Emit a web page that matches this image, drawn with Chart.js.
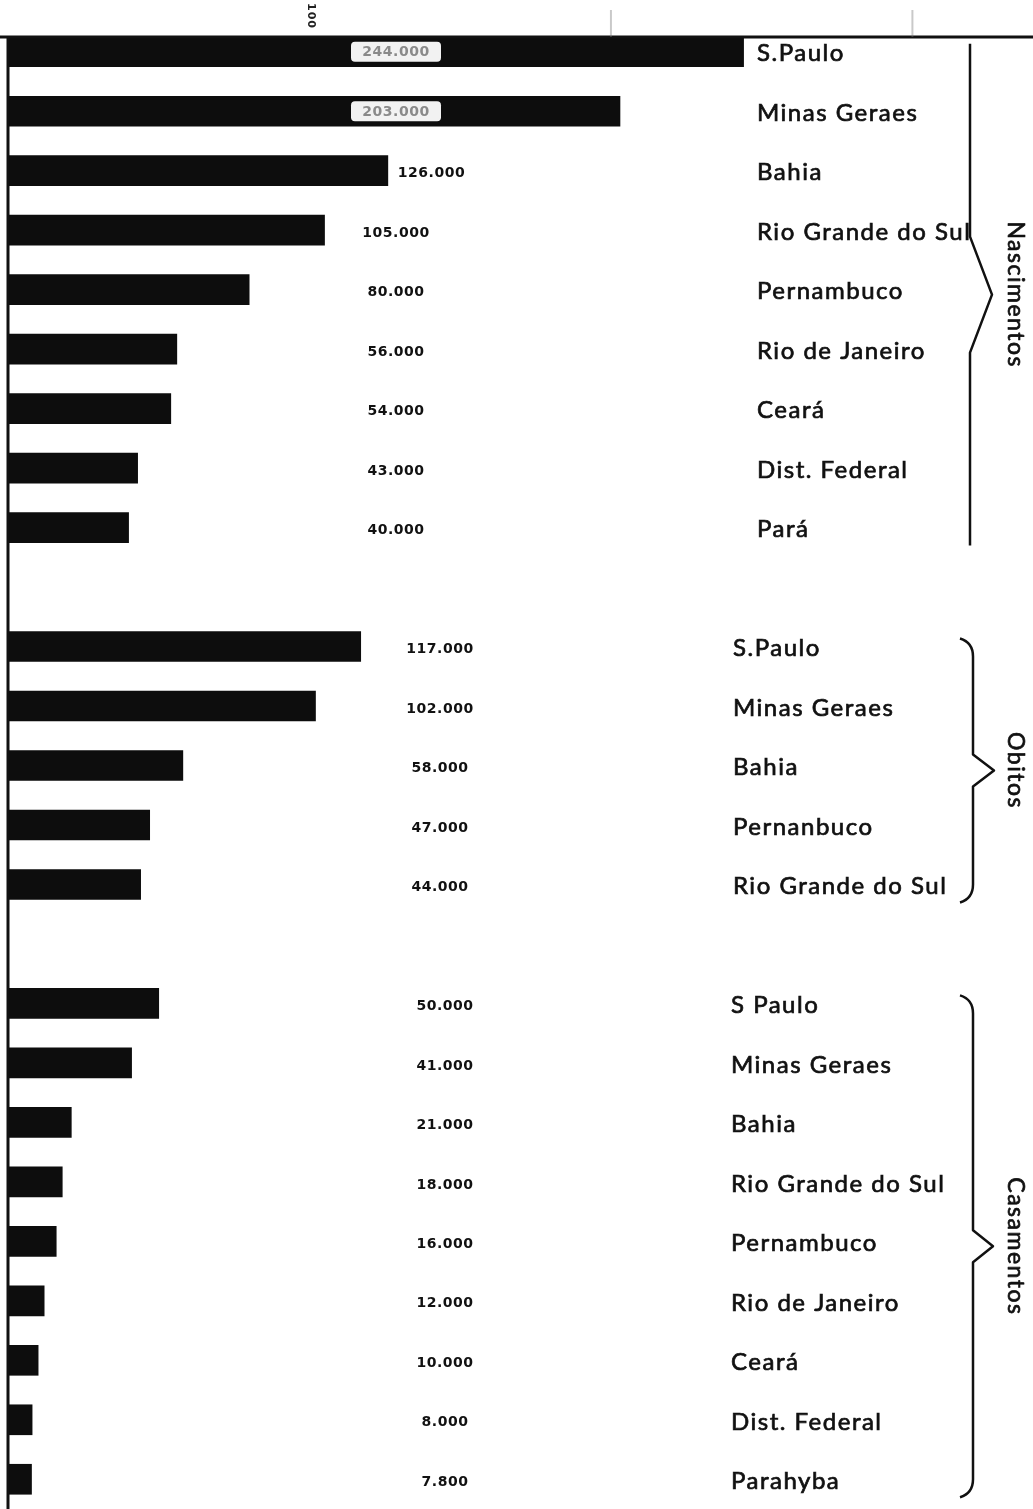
<!DOCTYPE html>
<html>
<head>
<meta charset="utf-8">
<script src="https://cdn.jsdelivr.net/npm/chart.js@4/dist/chart.umd.min.js"></script>
<style>
  html, body { margin: 0; padding: 0; background: #fff; }
  #wrap { width: 1033px; height: 1509px; position: relative; }
</style>
</head>
<body>
<div id="wrap"><canvas id="c" width="1033" height="1509"></canvas></div>
<script>
// Nascimentos
const nascStates = ['S.Paulo', 'Minas Geraes', 'Bahia', 'Rio Grande do Sul', 'Pernambuco',
                    'Rio de Janeiro', 'Ceará', 'Dist. Federal', 'Pará'];
const nascValues = [244000, 203000, 126000, 105000, 80000, 56000, 54000, 43000, 40000];

// Obitos
const obitStates = ['S.Paulo', 'Minas Geraes', 'Bahia', 'Pernanbuco', 'Rio Grande do Sul'];
const obitValues = [117000, 102000, 58000, 47000, 44000];

// Casamentos
const casaStates = ['S Paulo', 'Minas Geraes', 'Bahia', 'Rio Grande do Sul', 'Pernambuco',
                    'Rio de Janeiro', 'Ceará', 'Dist. Federal', 'Parahyba'];
const casaValues = [50000, 41000, 21000, 18000, 16000, 12000, 10000, 8000, 7800];

const groupTitles = ['Nascimentos', 'Obitos', 'Casamentos'];

// scale ticks along the top edge (thousands)
const xTickValues = [100000, 200000, 300000];
const xTickLabels = ['100', '', ''];

// one row per state, a blank row between groups
const groups = [
  { title: groupTitles[0], states: nascStates, values: nascValues },
  { title: groupTitles[1], states: obitStates, values: obitValues },
  { title: groupTitles[2], states: casaStates, values: casaValues }
];
const rowLabels = [];
const rowValues = [];
const rowGroup = [];
groups.forEach((g, gi) => {
  if (gi > 0) { rowLabels.push(''); rowValues.push(null); rowGroup.push(-1); }
  g.start = rowLabels.length;
  g.states.forEach((s, i) => { rowLabels.push(s); rowValues.push(g.values[i]); rowGroup.push(gi); });
  g.end = rowLabels.length - 1;
});

const fmt = v => v.toLocaleString('de-DE');

const STYLE = {
  axisY: 37,
  stateX: [757, 733, 731],
  valueX: [396, 440, 445],
  braceX: [970, 973, 973],
  braceTipX: [992, 994, 993],
  titleX: 1015
};

function drawBrace(ctx, x, tipX, top, bottom, curly) {
  const mid = (top + bottom) / 2;
  ctx.beginPath();
  if (curly) {
    ctx.moveTo(x - 13, top);
    ctx.quadraticCurveTo(x, top + 4, x, top + 18);
    ctx.lineTo(x, mid - 16);
    ctx.lineTo(tipX, mid);
    ctx.lineTo(x, mid + 16);
    ctx.lineTo(x, bottom - 18);
    ctx.quadraticCurveTo(x, bottom - 4, x - 13, bottom);
  } else {
    const h = Math.min(58, (bottom - top) / 4);
    ctx.moveTo(x, top);
    ctx.lineTo(x, mid - h);
    ctx.lineTo(tipX, mid);
    ctx.lineTo(x, mid + h);
    ctx.lineTo(x, bottom);
  }
  ctx.stroke();
  return mid;
}

// text with a hairline outline, for a heavier pen stroke
function inkText(ctx, text, x, y) {
  ctx.fillText(text, x, y);
  ctx.strokeText(text, x, y);
}

const annotate = {
  id: 'annotate',
  afterDatasetsDraw(chart) {
    const ctx = chart.ctx;
    const xs = chart.scales.x;
    const x0 = xs.getPixelForValue(0);
    const meta = chart.getDatasetMeta(0);

    ctx.save();
    // axis lines
    ctx.strokeStyle = '#111';
    ctx.lineWidth = 3;
    ctx.beginPath();
    ctx.moveTo(0, STYLE.axisY);
    ctx.lineTo(chart.width, STYLE.axisY);
    ctx.moveTo(x0, STYLE.axisY);
    ctx.lineTo(x0, chart.height);
    ctx.stroke();

    // top scale ticks
    xTickValues.forEach((v, i) => {
      const px = xs.getPixelForValue(v);
      if (xTickLabels[i]) {
        ctx.save();
        ctx.translate(px + 1, 16);
        ctx.rotate(Math.PI / 2);
        ctx.fillStyle = '#222';
        ctx.font = 'bold 11px "DejaVu Sans"';
        ctx.letterSpacing = '1px';
        ctx.textAlign = 'center';
        ctx.textBaseline = 'middle';
        ctx.fillText(xTickLabels[i], 0, 0);
        ctx.restore();
      } else {
        ctx.strokeStyle = 'rgba(120,120,120,0.4)';
        ctx.lineWidth = 2;
        ctx.beginPath();
        ctx.moveTo(px, 10);
        ctx.lineTo(px, STYLE.axisY);
        ctx.stroke();
      }
    });

    // value labels and state names
    meta.data.forEach((bar, i) => {
      const gi = rowGroup[i];
      if (gi < 0) return;
      const v = rowValues[i];
      const y = bar.y;
      ctx.font = 'bold 14px "DejaVu Sans"';
      ctx.letterSpacing = '0.5px';
      ctx.textAlign = 'center';
      ctx.textBaseline = 'middle';
      const text = fmt(v);
      const half = ctx.measureText(text).width / 2;
      let vx = STYLE.valueX[gi];
      if (bar.x > vx + 60) {
        // label box inside the long bars
        ctx.fillStyle = '#f2f2f2';
        ctx.beginPath();
        ctx.roundRect(vx - 45, y - 10, 90, 20, 4);
        ctx.fill();
        ctx.fillStyle = '#8a8a8a';
        ctx.fillText(text, vx, y + 1);
      } else {
        vx = Math.max(vx, bar.x + 10 + half);
        ctx.fillStyle = '#111';
        ctx.fillText(text, vx, y + 3);
      }
      ctx.font = '24px Lato';
      ctx.letterSpacing = '1.5px';
      ctx.textAlign = 'left';
      ctx.fillStyle = '#111';
      ctx.strokeStyle = '#111';
      ctx.lineWidth = 0.7;
      inkText(ctx, rowLabels[i], STYLE.stateX[gi], y + 2);
    });

    // braces and group titles
    groups.forEach((g, gi) => {
      const top = meta.data[g.start].y - 8;
      const bottom = meta.data[g.end].y + 18;
      ctx.strokeStyle = '#111';
      ctx.lineWidth = 2.5;
      ctx.lineJoin = 'round';
      const mid = drawBrace(ctx, STYLE.braceX[gi], STYLE.braceTipX[gi], top, bottom, gi > 0);
      ctx.save();
      ctx.translate(STYLE.titleX, mid);
      ctx.rotate(Math.PI / 2);
      ctx.font = '23px Lato';
      ctx.letterSpacing = '1.5px';
      ctx.textAlign = 'center';
      ctx.textBaseline = 'middle';
      ctx.fillStyle = '#111';
      ctx.lineWidth = 0.7;
      inkText(ctx, g.title, 0, 0);
      ctx.restore();
    });
    ctx.restore();
  }
};

new Chart(document.getElementById('c'), {
  type: 'bar',
  data: {
    labels: rowLabels,
    datasets: [{
      data: rowValues,
      backgroundColor: '#0d0d0d',
      borderWidth: 0,
      barThickness: 30
    }]
  },
  options: {
    indexAxis: 'y',
    responsive: false,
    animation: false,
    devicePixelRatio: 1,
    layout: { padding: { top: 22, left: 8, right: 0, bottom: 0 } },
    plugins: { legend: { display: false }, tooltip: { enabled: false } },
    scales: {
      x: { type: 'linear', min: 0, max: 340000, display: false },
      y: { type: 'category', display: false, offset: true }
    }
  },
  plugins: [annotate]
});
</script>
</body>
</html>
